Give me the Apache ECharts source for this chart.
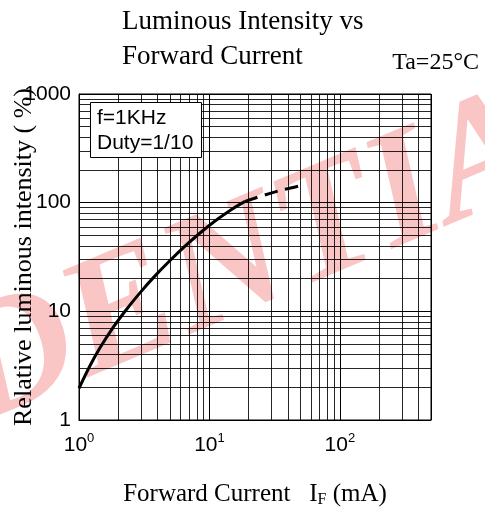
<!DOCTYPE html>
<html>
<head>
<meta charset="utf-8">
<script src="https://cdn.jsdelivr.net/npm/echarts@6/dist/echarts.min.js"></script>
<style>
html,body{margin:0;padding:0;background:#fff;}
#chart{width:485px;height:508px;}
</style>
</head>
<body>
<div id="chart"></div>
<script>
// Data
const solidCurve = [[1, 1.96], [1.214, 3.16], [1.449, 4.62], [1.823, 7.09], [2.334, 10.57], [2.988, 15.19], [3.827, 21.19], [4.988, 29.36], [6.5, 39.76], [8.47, 52.6], [11.04, 67.8], [14.39, 84.9], [18.75, 102.7]];
const dashedCurve = [[18.75, 102.7], [25.3, 115.6], [36.0, 130.8], [54.1, 146.3]];
const xMajorTicks = [1, 10, 100];
const yMajorTicks = [1, 10, 100, 1000];
const xMinorGrid = [2, 3, 4, 5, 6, 7, 8, 9, 20, 30, 40, 50, 60, 70, 80, 90, 200, 300, 400];
const yMinorGrid = [2, 3, 4, 5, 6, 7, 8, 9, 20, 30, 40, 50, 60, 70, 80, 90, 200, 300, 400, 500, 600, 700, 800, 900];
const xRange = [1, 500];
const yRange = [1, 1000];
const legendLines = ['f=1KHz', 'Duty=1/10'];

const SERIF = "'Liberation Serif', 'Times New Roman', serif";
const SANS = "'Liberation Sans', Arial, sans-serif";

const chart = echarts.init(document.getElementById('chart'), null, {renderer: 'canvas'});

function isPow10(v) {
  const l = Math.log10(v);
  return Math.abs(l - Math.round(l)) < 1e-6;
}

const minorLines = xMinorGrid.map(v => ({xAxis: v})).concat(yMinorGrid.map(v => ({yAxis: v})));

const option = {
  backgroundColor: '#fff',
  animation: false,
  title: [
    {
      text: 'Luminous Intensity vs\nForward Current',
      left: 117, top: -1,
      textStyle: {fontFamily: SERIF, fontSize: 27, fontWeight: 'normal', color: '#000', lineHeight: 35}
    },
    {
      text: 'Ta=25°C',
      right: 1, top: 46,
      textStyle: {fontFamily: SERIF, fontSize: 24, fontWeight: 'normal', color: '#000'}
    }
  ],
  graphic: [
    {
      type: 'text',
      z: -100,
      x: 55, y: 345,
      rotation: 0.40,
      silent: true,
      style: {
        text: 'CONFIDENTIAL',
        font: 'italic bold 165px ' + SERIF,
        fill: 'rgba(235,40,40,0.27)',
        textAlign: 'center',
        textVerticalAlign: 'middle'
      }
    },
    {
      type: 'group',
      z: 100,
      children: [
        {
          type: 'rect',
          z: 100,
          shape: {x: 90.5, y: 102.5, width: 111, height: 55},
          style: {fill: '#fff', stroke: '#000', lineWidth: 1}
        },
        {
          type: 'text', z: 101, x: 97, y: 129,
          style: {text: legendLines[0], font: '21px ' + SANS, fill: '#000', textVerticalAlign: 'bottom'}
        },
        {
          type: 'text', z: 101, x: 97, y: 154,
          style: {text: legendLines[1], font: '21px ' + SANS, fill: '#000', textVerticalAlign: 'bottom'}
        }
      ]
    }
  ],
  grid: {
    left: 79, right: 54, top: 94, bottom: 88,
    outerBoundsMode: 'none',
    containLabel: false,
    show: true, borderColor: '#000', borderWidth: 1, backgroundColor: 'transparent'
  },
  xAxis: {
    type: 'log', logBase: 10, min: xRange[0], max: xRange[1],
    name: '{n|Forward Current   I}{s|F}{n| (mA)}',
    nameLocation: 'middle', nameGap: 60,
    nameMoveOverlap: false,
    nameTextStyle: {
      rich: {
        n: {fontFamily: SERIF, fontSize: 25, color: '#000', lineHeight: 28},
        s: {fontFamily: SERIF, fontSize: 16, color: '#000', verticalAlign: 'bottom'}
      }
    },
    axisLine: {show: true, lineStyle: {color: '#000', width: 1}},
    axisTick: {show: false},
    splitLine: {show: true, lineStyle: {color: '#000', width: 1}},
    axisLabel: {
      margin: 12,
      formatter: function (v) {
        if (!isPow10(v) || xMajorTicks.indexOf(Math.round(v)) < 0) return '';
        return '{b|10}{s|' + Math.round(Math.log10(v)) + '}';
      },
      rich: {
        b: {fontFamily: SANS, fontSize: 21, color: '#000', lineHeight: 26},
        s: {fontFamily: SANS, fontSize: 13, color: '#000', verticalAlign: 'top'}
      }
    }
  },
  yAxis: {
    type: 'log', logBase: 10, min: yRange[0], max: yRange[1],
    name: 'Relative luminous intensity ( %)',
    nameLocation: 'middle', nameGap: 42, nameRotate: 90,
    nameMoveOverlap: false,
    nameTextStyle: {fontFamily: SERIF, fontSize: 26, color: '#000'},
    axisLine: {show: true, lineStyle: {color: '#000', width: 1}},
    axisTick: {show: false},
    splitLine: {show: true, lineStyle: {color: '#000', width: 1}},
    axisLabel: {
      margin: 8,
      fontFamily: SANS, fontSize: 21, color: '#000',
      formatter: function (v) {
        if (!isPow10(v) || yMajorTicks.indexOf(Math.round(v)) < 0) return '';
        return String(Math.round(v));
      }
    }
  },
  series: [
    {
      type: 'line',
      z: 1,
      data: [],
      silent: true,
      showSymbol: false,
      markLine: {
        silent: true,
        symbol: 'none',
        animation: false,
        label: {show: false},
        lineStyle: {color: '#000', width: 1, type: 'solid', opacity: 0.85},
        emphasis: {disabled: true},
        data: minorLines
      }
    },
    {
      type: 'line',
      z: 5,
      data: solidCurve,
      smooth: 0.3,
      showSymbol: false,
      silent: true,
      lineStyle: {color: '#000', width: 3, type: 'solid'}
    },
    {
      type: 'line',
      z: 5,
      data: dashedCurve,
      smooth: 0.3,
      showSymbol: false,
      silent: true,
      lineStyle: {color: '#000', width: 3, type: [13, 8]}
    }
  ]
};

chart.setOption(option);
</script>
</body>
</html>
